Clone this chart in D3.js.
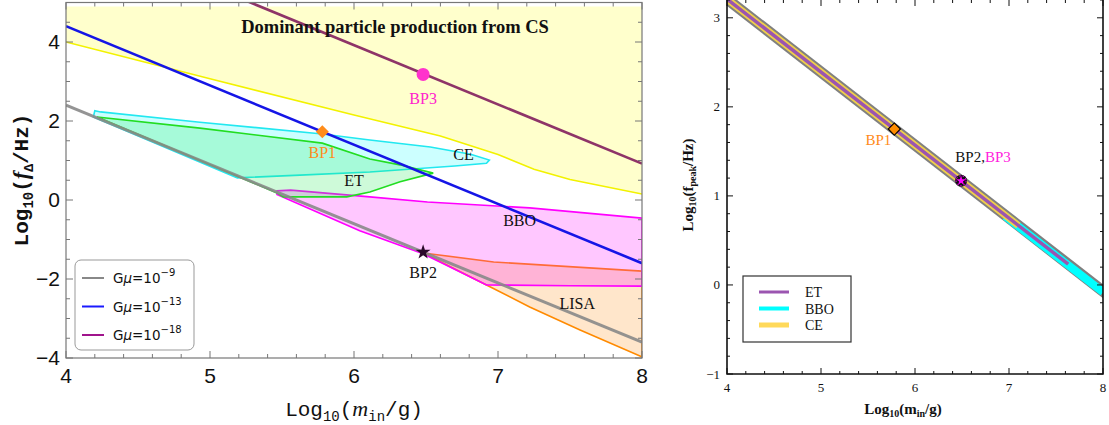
<!DOCTYPE html>
<html><head><meta charset="utf-8">
<script src="https://cdn.jsdelivr.net/npm/d3@7"></script>
<style>body{margin:0;background:#fff}svg{display:block}</style>
</head><body>
<svg id="c" width="1109" height="425"></svg>
<script>
// ---------- DATA (left panel) ----------
const xTicksL = [4,5,6,7,8];
const yTicksL = [-4,-2,0,2,4];
const gmuLabels = ["−9","−13","−18"];
const lineGmu9  = [[4,2.4],[8,-3.6]];
const lineGmu13 = [[4,4.4],[8,-1.6]];
const lineGmu18 = [[4,6.92],[8,0.92]];
const csBoundary = [[4,4.0],[5,3.07],[6,2.15],[6.6,1.62],[7.0,1.15],[7.25,0.78],[7.5,0.52],[8,0.15]];
const csTop = 4.9;
const regionCE = [[4.19,2.10],[5.19,0.56],[5.625,0.63],[6.11,0.71],[6.70,0.86],[6.92,0.93],[6.94,1.01],[6.81,1.16],[6.53,1.34],[6.11,1.52],[5.78,1.67],[4.93,1.97],[4.24,2.23],[4.20,2.26]];
const regionET = [[4.215,2.10],[4.93,1.82],[5.78,1.44],[6.11,1.04],[6.32,0.89],[6.55,0.68],[6.32,0.46],[6.11,0.20],[5.95,0.08],[5.51,0.08],[5.465,0.18]];
const regionBBO = [[5.465,0.23],[5.56,0.25],[6.11,0.08],[6.51,-0.05],[7.22,-0.20],[8,-0.46],[8,-2.18],[7.5,-2.17],[6.92,-2.15],[6.48,-1.36],[6.04,-0.78],[5.465,0.14]];
const regionLISA = [[6.48,-1.34],[6.97,-1.57],[8,-1.80],[8,-3.97],[7.57,-3.29],[7.22,-2.71],[6.92,-2.15]];
const bp1L = [5.78,1.73], bp2L = [6.48,-1.32], bp3L = [6.48,3.18];
const regionLabels = [["CE",6.76,1.02],["ET",6.0,0.35],["BBO",7.15,-0.65],["LISA",7.55,-2.75]];

// ---------- DATA (right panel) ----------
const xTicksR = [4,5,6,7,8];
const yTicksR = [-1,0,1,2,3];
const peakLine = [[4,3.21],[8,-0.07]];
const rangeCE = [4,7.1], rangeET = [4,7.63], rangeBBO = [6.96,8];
const bp1R = [5.78,1.75], bp23R = [6.49,1.17];
const detNames = ["ET","BBO","CE"];

const svg = d3.select("#c");
const peakY = x => peakLine[0][1] + (peakLine[1][1]-peakLine[0][1])*(x-peakLine[0][0])/(peakLine[1][0]-peakLine[0][0]);

// ================= LEFT PANEL =================
const xL = d3.scaleLinear().domain([4,8]).range([66,642]);
const yL = d3.scaleLinear().domain([-4,5]).range([358,2.5]);
const gL = svg.append("g");
gL.append("clipPath").attr("id","clipL").append("rect")
  .attr("x",66).attr("y",2.5).attr("width",576).attr("height",355.5);
const plotL = gL.append("g").attr("clip-path","url(#clipL)");
const lineL = d3.line().x(d=>xL(d[0])).y(d=>yL(d[1]));

// CS region
const csPoly = [[4,csTop],[8,csTop]].concat(csBoundary.slice().reverse());
plotL.append("path").attr("d",lineL(csPoly)+"Z").attr("fill","#ffffcc");
plotL.append("path").attr("d",lineL(csBoundary)).attr("fill","none").attr("stroke","#f2f200").attr("stroke-width",1.6);

// LISA, BBO, CE, ET
plotL.append("path").attr("d",lineL(regionLISA)+"Z").attr("fill","rgba(255,140,20,0.22)").attr("stroke","#ff8a00").attr("stroke-width",1.6);
plotL.append("path").attr("d",lineL(regionBBO)+"Z").attr("fill","rgba(255,0,255,0.22)").attr("stroke","#ff00ff").attr("stroke-width",1.6);
plotL.append("path").attr("d",lineL(regionCE)+"Z").attr("fill","rgba(0,255,255,0.2)").attr("stroke","#22e8f0").attr("stroke-width",1.6);
plotL.append("path").attr("d",lineL(regionET)+"Z").attr("fill","rgba(30,230,80,0.22)").attr("stroke","#22dd22").attr("stroke-width",1.6);

// Gmu lines
plotL.append("path").attr("d",lineL(lineGmu9)).attr("stroke","#888").attr("stroke-width",3).attr("fill","none").attr("opacity",0.9);
plotL.append("path").attr("d",lineL(lineGmu13)).attr("stroke","#1515e6").attr("stroke-width",2.6).attr("fill","none");
plotL.append("path").attr("d",lineL(lineGmu18)).attr("stroke","#8e3468").attr("stroke-width",2.6).attr("fill","none");

// region labels
regionLabels.forEach(([t,x,y])=>{
  plotL.append("text").attr("x",xL(x)).attr("y",yL(y)).attr("text-anchor","middle")
    .attr("font-family","Liberation Serif").attr("font-size",16).attr("fill","#111").text(t);
});
gL.append("text").attr("x",395).attr("y",33).attr("text-anchor","middle")
  .attr("font-family","Liberation Serif").attr("font-weight","bold").attr("font-size",18.5).attr("fill","#111")
  .text("Dominant particle production from CS");

// BPs
plotL.append("path").attr("d",d3.symbol(d3.symbolSquare,85)())
  .attr("transform",`translate(${xL(bp1L[0])},${yL(bp1L[1])}) rotate(45)`).attr("fill","#ff8c1a");
plotL.append("text").attr("x",xL(bp1L[0])).attr("y",yL(bp1L[1])+26).attr("text-anchor","middle")
  .attr("font-family","Liberation Serif").attr("font-size",16).attr("fill","#ff8c1a").text("BP1");
plotL.append("path").attr("d",d3.symbol(d3.symbolStar,70)())
  .attr("transform",`translate(${xL(bp2L[0])},${yL(bp2L[1])})`).attr("fill","#2a0a2a");
plotL.append("text").attr("x",xL(bp2L[0])).attr("y",yL(bp2L[1])+26).attr("text-anchor","middle")
  .attr("font-family","Liberation Serif").attr("font-size",16).attr("fill","#111").text("BP2");
plotL.append("circle").attr("cx",xL(bp3L[0])).attr("cy",yL(bp3L[1])).attr("r",6.5).attr("fill","#ff33cc");
plotL.append("text").attr("x",xL(bp3L[0])).attr("y",yL(bp3L[1])+30).attr("text-anchor","middle")
  .attr("font-family","Liberation Serif").attr("font-size",16).attr("fill","#ff22cc").text("BP3");

// frame & ticks
const axCol = "#777";
gL.append("rect").attr("x",66).attr("y",2.5).attr("width",576).attr("height",355.5)
  .attr("fill","none").attr("stroke",axCol).attr("stroke-width",1.2);
d3.range(4,8.001,0.2).forEach(v=>{
  const major = Math.abs(v-Math.round(v))<1e-6, len = major?7:4;
  gL.append("line").attr("x1",xL(v)).attr("x2",xL(v)).attr("y1",358).attr("y2",358-len).attr("stroke",axCol);
  gL.append("line").attr("x1",xL(v)).attr("x2",xL(v)).attr("y1",2.5).attr("y2",2.5+len).attr("stroke",axCol);
});
d3.range(-4,5.001,0.5).forEach(v=>{
  const major = Math.abs(v/2-Math.round(v/2))<1e-6, len = major?7:4;
  gL.append("line").attr("y1",yL(v)).attr("y2",yL(v)).attr("x1",66).attr("x2",66+len).attr("stroke",axCol);
  gL.append("line").attr("y1",yL(v)).attr("y2",yL(v)).attr("x1",642).attr("x2",642-len).attr("stroke",axCol);
});
xTicksL.forEach(v=>{
  gL.append("text").attr("x",xL(v)).attr("y",383).attr("text-anchor","middle")
    .attr("font-family","Liberation Sans").attr("font-size",21).attr("fill","#111").text(v);
});
yTicksL.forEach(v=>{
  gL.append("text").attr("x",60).attr("y",yL(v)+7).attr("text-anchor","end")
    .attr("font-family","Liberation Sans").attr("font-size",21).attr("fill","#111").text(v<0?"−"+(-v):v);
});
// axis titles
const xtL = gL.append("text").attr("x",354).attr("y",416).attr("text-anchor","middle")
  .attr("font-family","Liberation Mono").attr("font-size",21).attr("fill","#111");
xtL.append("tspan").text("Log");
xtL.append("tspan").attr("font-size",14).attr("dy",5).text("10");
xtL.append("tspan").attr("dy",-5).text("(");
xtL.append("tspan").attr("font-style","italic").attr("font-family","Liberation Serif").attr("font-size",22).text("m");
xtL.append("tspan").attr("font-size",14).attr("dy",5).text("in");
xtL.append("tspan").attr("dy",-5).text("/g)");
const ytL = gL.append("text").attr("transform","translate(28,180) rotate(-90)").attr("text-anchor","middle")
  .attr("font-family","Liberation Mono").attr("font-weight","bold").attr("font-size",21).attr("fill","#111");
ytL.append("tspan").text("Log");
ytL.append("tspan").attr("font-size",14).attr("dy",5).text("10");
ytL.append("tspan").attr("dy",-5).text("(");
ytL.append("tspan").attr("font-style","italic").attr("font-family","Liberation Serif").attr("font-size",22).text("f");
ytL.append("tspan").attr("font-size",13).attr("dy",5).text("Δ");
ytL.append("tspan").attr("dy",-5).text("/Hz)");

// legend (left)
const legL = gL.append("g");
legL.append("rect").attr("x",75).attr("y",260).attr("width",119).attr("height",90).attr("rx",6)
  .attr("fill","#fff").attr("stroke","#999").attr("stroke-width",1);
const legColsL = ["#888","#1a1aff","#a0148c"];
gmuLabels.forEach((lab,i)=>{
  const y = 278 + i*28.5;
  legL.append("line").attr("x1",82).attr("x2",104).attr("y1",y).attr("y2",y).attr("stroke",legColsL[i]).attr("stroke-width",2);
  const t = legL.append("text").attr("x",113).attr("y",y+5).attr("font-family","DejaVu Sans").attr("font-size",13.5).attr("fill","#111");
  t.append("tspan").text("G");
  t.append("tspan").attr("font-style","italic").text("μ");
  t.append("tspan").text("=10");
  t.append("tspan").attr("dy",-7).attr("font-size",10).text(lab);
});

// ================= RIGHT PANEL =================
const xR = d3.scaleLinear().domain([4,8]).range([727,1103]);
const yR = d3.scaleLinear().domain([-1,3.2]).range([374,0]);
const gR = svg.append("g");
gR.append("clipPath").attr("id","clipR").append("rect").attr("x",727).attr("y",0).attr("width",376).attr("height",374);
const plotR = gR.append("g").attr("clip-path","url(#clipR)");
const seg = r => [[r[0],peakY(r[0])],[r[1],peakY(r[1])]];
const lineR = d3.line().x(d=>xR(d[0])).y(d=>yR(d[1]));
plotR.append("path").attr("d",lineR(seg([3.9,8.1]))).attr("stroke","#808080").attr("stroke-width",11).attr("fill","none");
plotR.append("path").attr("d",lineR(seg(rangeBBO))).attr("stroke","#00ffff").attr("stroke-width",8).attr("fill","none").attr("transform","translate(0,1)");
plotR.append("path").attr("d",lineR(seg([3.9,rangeCE[1]]))).attr("stroke","#f0cf4a").attr("stroke-width",7).attr("fill","none");
plotR.append("path").attr("d",lineR(seg([3.9,rangeET[1]]))).attr("stroke","#9b55b0").attr("stroke-width",3.5).attr("fill","none");

// BPs right
plotR.append("path").attr("d",d3.symbol(d3.symbolSquare,75)())
  .attr("transform",`translate(${xR(bp1R[0])},${yR(bp1R[1])}) rotate(45)`).attr("fill","#ff8c00").attr("stroke","#000").attr("stroke-width",1.2);
gR.append("text").attr("x",xR(bp1R[0])-16).attr("y",yR(bp1R[1])+16).attr("text-anchor","middle")
  .attr("font-family","Liberation Serif").attr("font-size",15).attr("fill","#ff8c1a").text("BP1");
plotR.append("circle").attr("cx",xR(bp23R[0])).attr("cy",yR(bp23R[1])).attr("r",6).attr("fill","#111");
plotR.append("path").attr("d",d3.symbol(d3.symbolStar,30)())
  .attr("transform",`translate(${xR(bp23R[0])},${yR(bp23R[1])})`).attr("fill","#ff00ff");
plotR.append("circle").attr("cx",xR(bp23R[0])).attr("cy",yR(bp23R[1])).attr("r",5).attr("fill","none")
  .attr("stroke","#ff00ff").attr("stroke-width",1).attr("stroke-dasharray","1.5,2");
const bpt = gR.append("text").attr("x",xR(bp23R[0])+22).attr("y",yR(bp23R[1])-19).attr("text-anchor","middle")
  .attr("font-family","Liberation Serif").attr("font-size",15);
bpt.append("tspan").attr("fill","#111").text("BP2,");
bpt.append("tspan").attr("fill","#ff22dd").text("BP3");

// frame & ticks right
gR.append("path").attr("d",`M727,0V374H1103V0`).attr("fill","none").attr("stroke","#111").attr("stroke-width",1.6);
d3.range(4,8.001,0.2).forEach(v=>{
  const major = Math.abs(v-Math.round(v))<1e-6, len = major?6:3;
  gR.append("line").attr("x1",xR(v)).attr("x2",xR(v)).attr("y1",374).attr("y2",374-len).attr("stroke","#111");
  gR.append("line").attr("x1",xR(v)).attr("x2",xR(v)).attr("y1",0).attr("y2",len).attr("stroke","#111");
});
d3.range(-1,3.201,0.2).forEach(v=>{
  const major = Math.abs(v-Math.round(v))<1e-6, len = major?6:3;
  gR.append("line").attr("y1",yR(v)).attr("y2",yR(v)).attr("x1",727).attr("x2",727+len).attr("stroke","#111");
  gR.append("line").attr("y1",yR(v)).attr("y2",yR(v)).attr("x1",1103).attr("x2",1103-len).attr("stroke","#111");
});
xTicksR.forEach(v=>{
  gR.append("text").attr("x",xR(v)).attr("y",392).attr("text-anchor","middle")
    .attr("font-family","Liberation Serif").attr("font-size",13).attr("fill","#111").text(v);
});
yTicksR.forEach(v=>{
  gR.append("text").attr("x",720).attr("y",yR(v)+4.5).attr("text-anchor","end")
    .attr("font-family","Liberation Serif").attr("font-size",13).attr("fill","#111").text(v<0?"−"+(-v):v);
});
const xtR = gR.append("text").attr("x",903).attr("y",414).attr("text-anchor","middle")
  .attr("font-family","Liberation Serif").attr("font-weight","bold").attr("font-size",15).attr("fill","#111");
xtR.append("tspan").text("Log");
xtR.append("tspan").attr("font-size",10).attr("dy",3).text("10");
xtR.append("tspan").attr("dy",-3).text("(m");
xtR.append("tspan").attr("font-size",10).attr("dy",3).text("in");
xtR.append("tspan").attr("dy",-3).text("/g)");
const ytR = gR.append("text").attr("transform","translate(693,185) rotate(-90)").attr("text-anchor","middle")
  .attr("font-family","Liberation Serif").attr("font-weight","bold").attr("font-size",15).attr("fill","#111");
ytR.append("tspan").text("Log");
ytR.append("tspan").attr("font-size",10).attr("dy",3).text("10");
ytR.append("tspan").attr("dy",-3).text("(f");
ytR.append("tspan").attr("font-size",10).attr("dy",3).text("peak");
ytR.append("tspan").attr("dy",-3).text("/Hz)");

// legend right
const legR = gR.append("g");
legR.append("rect").attr("x",743).attr("y",276).attr("width",108).attr("height",66).attr("fill","#fff").attr("stroke","#333").attr("stroke-width",1.2);
const legColsR = ["#9b55b0","#00ffff","#ffd95a"], legW = [3,4,5];
detNames.forEach((n,i)=>{
  const y = 292 + i*16.5;
  legR.append("line").attr("x1",759).attr("x2",789).attr("y1",y).attr("y2",y).attr("stroke",legColsR[i]).attr("stroke-width",legW[i]);
  legR.append("text").attr("x",805).attr("y",y+5).attr("font-family","Liberation Serif").attr("font-size",14).attr("fill","#111").text(n);
});
</script>
</body></html>
